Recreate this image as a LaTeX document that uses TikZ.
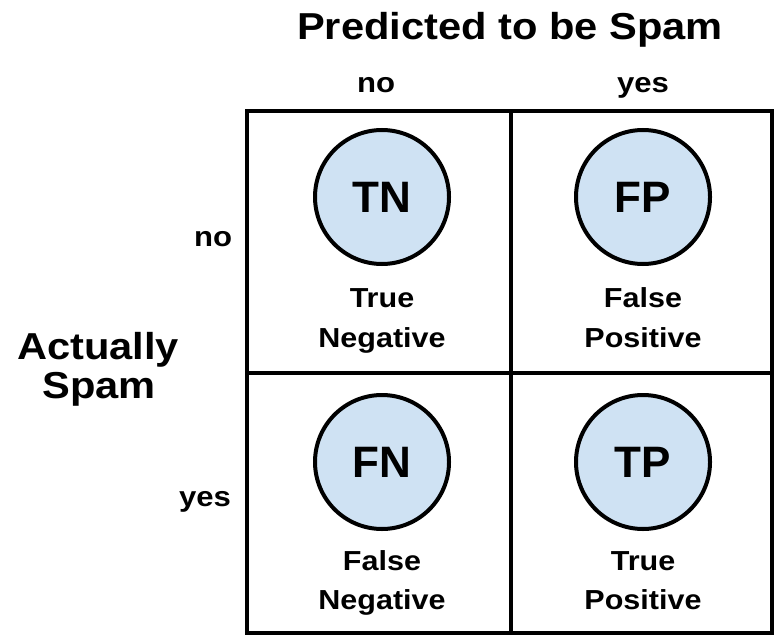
\documentclass[tikz,border=0pt]{standalone}
\usepackage{fontspec}
\setmainfont{Liberation Sans}[FakeStretch=1.11]
\newfontfamily\badgefont{Liberation Sans}
\definecolor{cellblue}{HTML}{CFE2F3}
\begin{document}
\begin{tikzpicture}[x=1pt,y=-1pt,
  title/.style={anchor=base,inner sep=0pt,font=\bfseries\fontsize{37.5}{45}\selectfont},
  axislabel/.style={anchor=base,inner sep=0pt,font=\bfseries\fontsize{28}{34}\selectfont},
  celltext/.style={anchor=base,inner sep=0pt,font=\bfseries\fontsize{27.5}{33}\selectfont},
  badge/.style={circle,draw=black,line width=4pt,fill=cellblue,minimum size=134pt,inner sep=0pt,
    font=\badgefont\bfseries\fontsize{44}{50}\selectfont},
  gridline/.style={line width=4pt,draw=black}]
\useasboundingbox (0,0) rectangle (775,636);

% column header
\node[title] (predicted) at (510,40) {Predicted to be Spam};
\node[axislabel] (colno) at (376,93) {no};
\node[axislabel] (colyes) at (643,93) {yes};

% row header
\node[title] (actually) at (98,359) {Actually};
\node[title] (spam) at (99,398) {Spam};
\node[axislabel] (rowno) at (213,246) {no};
\node[axislabel] (rowyes) at (205,506) {yes};

% the 2x2 grid
\coordinate (nw) at (247,111);
\coordinate (se) at (772,633);
\draw[gridline] (nw) rectangle (se);
\draw[gridline] (511,111) -- (511,633);
\draw[gridline] (247,373) -- (772,373);

% cells
\node[badge] (TN) at (382,197) {TN};
\node[badge] (FP) at (643,197) {FP};
\node[badge] (FN) at (382,462) {FN};
\node[badge] (TP) at (643,462) {TP};

\node[celltext] (tn1) at (382,307) {True};
\node[celltext] (tn2) at (382,347) {Negative};
\node[celltext] (fp1) at (643,307) {False};
\node[celltext] (fp2) at (643,347) {Positive};
\node[celltext] (fn1) at (382,570) {False};
\node[celltext] (fn2) at (382,609) {Negative};
\node[celltext] (tp1) at (643,570) {True};
\node[celltext] (tp2) at (643,609) {Positive};
\end{tikzpicture}
\end{document}
